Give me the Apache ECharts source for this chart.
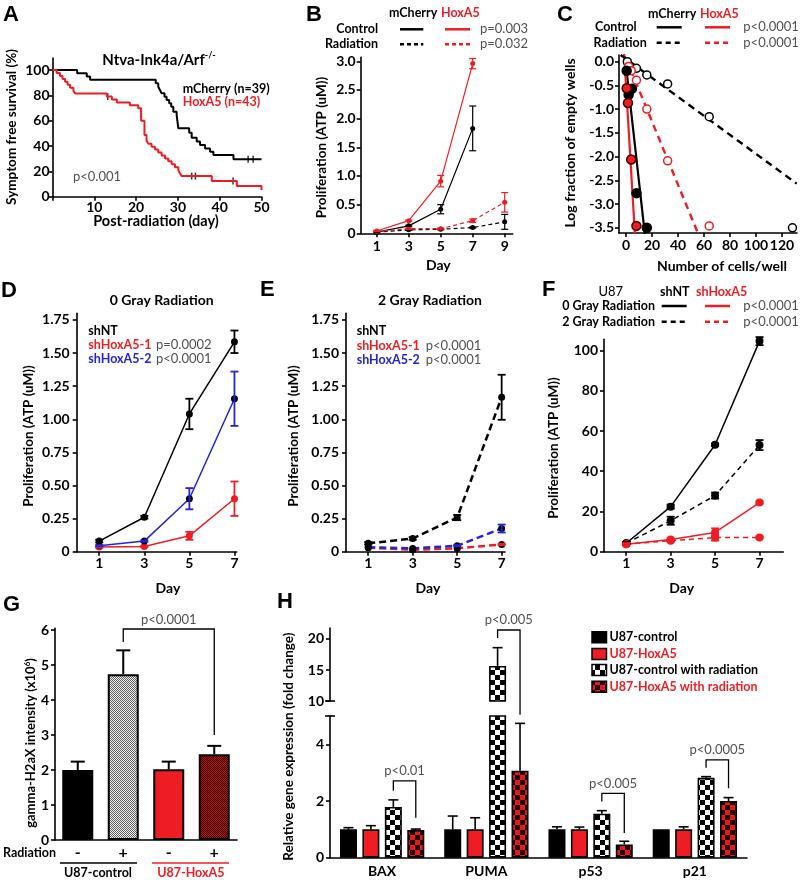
<!DOCTYPE html>
<html>
<head>
<meta charset="utf-8">
<title>HoxA5 figure</title>
<script src="https://cdn.jsdelivr.net/npm/echarts@6.0.0/dist/echarts.min.js"></script>
<style>
html,body{margin:0;padding:0;background:#fff;}
#chart{width:800px;height:880px;}
</style>
</head>
<body>
<div id="chart"></div>
<script>
// ================= DATA =================
// Panel A: Kaplan-Meier, [day, % symptom free]
const A_xTicks = [0, 10, 20, 30, 40, 50];
const A_xLabels = [10, 20, 30, 40, 50];
const A_yTicks = [0, 20, 40, 60, 80, 100];
const A_mCherry = [[0,100],[5.9,97.4],[8.2,94.9],[9.0,92.3],[24.7,89.5],[25.3,86.8],[25.7,84.2],[26.1,81.6],[26.8,79.0],[27.3,76.3],[27.9,73.7],[28.4,71.0],[28.9,67.0],[29.7,64.5],[30.1,54.0],[32.7,50.5],[33.3,46.5],[34.5,43.5],[35.3,40.8],[36.5,38.0],[37.7,35.5],[38.5,32.9],[43.3,29.5],[50,29.5]];
const A_mCherryCensor = [[46.8,29.5],[48.0,29.5]];
const A_HoxA5 = [[0,100],[1.0,97.7],[1.8,95.3],[2.4,93.0],[3.0,90.7],[3.6,88.4],[4.2,86.0],[5.0,83.7],[5.4,81.4],[13.0,79.1],[14.2,76.7],[15.4,74.4],[18.5,72.1],[20.5,69.8],[21.2,60.0],[22.0,48.8],[22.5,44.2],[22.9,41.9],[23.7,39.5],[24.5,37.2],[25.3,34.9],[26.1,32.6],[26.9,30.2],[27.7,27.9],[28.5,25.6],[29.3,23.3],[30.1,20.9],[30.5,18.6],[30.9,16.3],[38.1,12.4],[44.1,8.4],[50,5.3]];
const A_HoxA5Censor = [[13.2,79.1],[33.3,16.3],[34.2,16.3],[43.2,12.4]];

// Panel B: proliferation (ATP uM)
const B_days = [1, 3, 5, 7, 9];
const B_ctrlDays = [1, 3, 5, 7];
const B_yTicks = [0, 0.5, 1.0, 1.5, 2.0, 2.5, 3.0];
const B_mChCtrl = [0.02, 0.13, 0.42, 1.83];
const B_mChCtrlErr = [0.01, 0.01, 0.08, 0.39];
const B_hoxCtrl = [0.04, 0.22, 0.91, 2.96];
const B_hoxCtrlErr = [0.01, 0.01, 0.10, 0.09];
const B_mChRad = [0.02, 0.06, 0.07, 0.10, 0.20];
const B_mChRadErr = [0, 0.01, 0.01, 0.01, 0.13];
const B_hoxRad = [0.03, 0.08, 0.08, 0.22, 0.54];
const B_hoxRadErr = [0, 0.01, 0.01, 0.03, 0.17];

// Panel C: limiting dilution, [cells/well, log fraction empty wells]
const C_xTicks = [0, 20, 40, 60, 80, 100, 120];
const C_yTicks = [0, -0.5, -1.0, -1.5, -2.0, -2.5, -3.0, -3.5];
const C_mChCtrl = [[0.5,-0.19],[1,-0.57],[2,-0.7],[4.5,-0.57],[8,-2.77],[16,-3.5]];
const C_hoxCtrl = [[0.5,-0.56],[1.5,-0.87],[4,-2.06],[8,-3.46]];
const C_mChRad = [[1,0.0],[8,-0.14],[16,-0.28],[32,-0.47],[64,-1.16],[128,-3.5]];
const C_hoxRad = [[2,-0.1],[4,-0.19],[8,-0.39],[16,-1.0],[32,-2.09],[64,-3.46]];
const C_fitMChCtrl = [[-0.8,0.11],[14.6,-3.66]];
const C_fitHoxCtrl = [[-1.5,0.18],[6.9,-3.66]];
const C_fitMChRad = [[-4.1,0.14],[131.3,-2.57]];
const C_fitHoxRad = [[0,0.07],[56,-3.66]];

// Panel D / E: 0 Gy and 2 Gy
const D_days = [1, 3, 5, 7];
const D_yTicks = [0, 0.25, 0.5, 0.75, 1.0, 1.25, 1.5, 1.75];
const D_shNT = [0.08, 0.26, 1.04, 1.585];
const D_shNTErr = [0.01, 0.01, 0.115, 0.085];
const D_sh1 = [0.035, 0.04, 0.12, 0.40];
const D_sh1Err = [0.005, 0.005, 0.03, 0.13];
const D_sh2 = [0.045, 0.08, 0.40, 1.155];
const D_sh2Err = [0.005, 0.005, 0.08, 0.205];
const E_shNT = [0.063, 0.10, 0.258, 1.166];
const E_shNTErr = [0.01, 0.01, 0.02, 0.17];
const E_sh1 = [0.03, 0.015, 0.025, 0.055];
const E_sh1Err = [0, 0, 0, 0.005];
const E_sh2 = [0.033, 0.025, 0.045, 0.175];
const E_sh2Err = [0, 0, 0.005, 0.03];

// Panel F: U87
const F_days = [1, 3, 5, 7];
const F_yTicks = [0, 20, 40, 60, 80, 100];
const F_shNT0 = [4.2, 22.4, 53.2, 104.7];
const F_shNT0Err = [0.5, 1.0, 0.6, 2.0];
const F_shNT2 = [4.2, 15.4, 27.9, 53.0];
const F_shNT2Err = [0.5, 2.0, 1.5, 2.5];
const F_sh0 = [3.7, 6.1, 9.6, 24.4];
const F_sh0Err = [0.5, 0.5, 2.0, 0.6];
const F_sh2 = [3.7, 5.5, 7.0, 7.1];
const F_sh2Err = [0.5, 0.5, 1.5, 0.5];

// Panel G: gamma-H2aX
const G_groups = ['-', '+', '-', '+'];
const G_yTicks = [0, 1, 2, 3, 4, 5, 6];
const G_values = [2.0, 4.74, 2.02, 2.45];
const G_err = [0.24, 0.68, 0.22, 0.24];

// Panel H: relative gene expression
const H_genes = ['BAX', 'PUMA', 'p53', 'p21'];
const H_upTicks = [10, 15, 20];
const H_loTicks = [0, 2, 4];
const H_ctrl = [1.0, 1.0, 1.0, 1.0];
const H_ctrlErr = [0.06, 0.47, 0.09, 0];
const H_hox = [1.0, 1.0, 1.0, 1.0];
const H_hoxErr = [0.13, 0.41, 0.08, 0.09];
const H_ctrlRad = [1.79, 15.65, 1.55, 2.82];
const H_ctrlRadErr = [0.25, 2.95, 0.11, 0.04];
const H_hoxRad = [0.98, 3.07, 0.47, 2.0];
const H_hoxRadErr = [0.03, 1.67, 0.11, 0.12];
const H_names = ['U87-control', 'U87-HoxA5', 'U87-control with radiation', 'U87-HoxA5 with radiation'];

// ================= STYLE =================
const FONT = 'Lato, "Open Sans", "DejaVu Sans", sans-serif';
const LETTER = 'bold 22px "Liberation Sans", Arial, sans-serif';
const RED = '#ee1d23', BLUE = '#2323dd', GRAY = '#505050';
const LEG = 12.5;

function checker(c1, c2, s) {
  const cv = document.createElement('canvas');
  cv.width = cv.height = 2 * s;
  const ctx = cv.getContext('2d');
  ctx.fillStyle = c1; ctx.fillRect(0, 0, 2 * s, 2 * s);
  ctx.fillStyle = c2; ctx.fillRect(0, 0, s, s); ctx.fillRect(s, s, s, s);
  return {image: cv, repeat: 'repeat'};
}
const PAT_G_GRAY = checker('#f0f0f0', '#606060', 1);
const PAT_G_DRED = checker('#b31212', '#3a0000', 1);
const PAT_H_BW = checker('#ffffff', '#000000', 5);
const PAT_H_DRED = checker('#e81818', '#1a0000', 5);
const G_fills = ['#000', PAT_G_GRAY, RED, PAT_G_DRED];
const H_fills = ['#000', RED, PAT_H_BW, PAT_H_DRED];

const grids = [
  {left: 52.5, top: 58, width: 209, height: 138.7},    // A
  {left: 360.7, top: 57.3, width: 152, height: 176},   // B
  {left: 619, top: 55, width: 178, height: 178},       // C
  {left: 76.7, top: 313.3, width: 160, height: 238.4}, // D
  {left: 346, top: 313.3, width: 159, height: 238.4},  // E
  {left: 604, top: 339.3, width: 179.3, height: 212.4},// F
  {left: 55, top: 628.3, width: 182, height: 211.7},   // G
  {left: 330, top: 628, width: 417, height: 73},       // H upper
  {left: 330, top: 716, width: 417, height: 141.7}     // H lower
];

function valAxis(grid, min, max, ticks, labels, fmt, margin, extra) {
  const ax = {
    type: 'value', gridIndex: grid, min: min, max: max,
    axisLine: {show: true, onZero: false, lineStyle: {color: '#000', width: 1.6}},
    axisTick: {show: true, length: 4, customValues: ticks, lineStyle: {color: '#000', width: 1.6}},
    axisLabel: {show: true, customValues: labels, formatter: fmt, margin: margin, color: '#000',
      fontFamily: FONT, fontWeight: 'bold', fontSize: 14},
    splitLine: {show: false}
  };
  return Object.assign(ax, extra || {});
}
function catAxis(grid, cats, show, fontSize, margin) {
  return {
    type: 'category', gridIndex: grid, data: cats, boundaryGap: true,
    axisLine: {show: show, onZero: false, lineStyle: {color: '#000', width: 1.6}},
    axisTick: {show: false},
    axisLabel: {show: show, margin: margin, color: '#000', fontFamily: FONT, fontWeight: 'bold', fontSize: fontSize},
    splitLine: {show: false}
  };
}
const str = v => String(v);
const fmt1 = v => v === 0 ? '0' : v.toFixed(1);
const fmt2 = v => v === 0 ? '0' : v.toFixed(2);

function ln(grid, xs, ys, color, dash, width, symSize, symColor) {
  return {
    type: 'line', xAxisIndex: grid, yAxisIndex: grid, silent: true, z: 3,
    data: xs.map((x, i) => [x, ys[i]]),
    symbol: symSize ? 'circle' : 'none', symbolSize: symSize || 0, showSymbol: !!symSize,
    itemStyle: {color: symColor || color, borderWidth: 0},
    lineStyle: {color: color, width: width, type: dash || 'solid'}
  };
}
function pairLine(grid, pts, color, dash, width) {
  return {
    type: 'line', xAxisIndex: grid, yAxisIndex: grid, silent: true, z: 2, clip: true,
    data: pts, symbol: 'none', lineStyle: {color: color, width: width, type: dash || 'solid'}
  };
}
function pts(grid, data, fill, stroke, size) {
  return {
    type: 'scatter', xAxisIndex: grid, yAxisIndex: grid, silent: true, z: 4, data: data,
    symbol: 'circle', symbolSize: size, itemStyle: {color: fill, borderColor: stroke, borderWidth: 1.5, opacity: 1}
  };
}
function errBars(grid, xs, ys, es, color, cap, lw) {
  const data = [];
  xs.forEach((x, i) => { if (ys[i] != null && es[i] > 0) data.push([x, ys[i] - es[i], ys[i] + es[i]]); });
  return {
    type: 'custom', xAxisIndex: grid, yAxisIndex: grid, data: data, silent: true, z: 5,
    renderItem: function (p, api) {
      const x = api.value(0);
      const lo = api.coord([x, api.value(1)]), hi = api.coord([x, api.value(2)]);
      const st = {stroke: color, lineWidth: lw};
      return {type: 'group', children: [
        {type: 'line', shape: {x1: lo[0], y1: lo[1], x2: hi[0], y2: hi[1]}, style: st},
        {type: 'line', shape: {x1: lo[0] - cap, y1: lo[1], x2: lo[0] + cap, y2: lo[1]}, style: st},
        {type: 'line', shape: {x1: hi[0] - cap, y1: hi[1], x2: hi[0] + cap, y2: hi[1]}, style: st}
      ]};
    }
  };
}
// bar error bars (upper half only)
function barErr(grid, vals, errs, barIdx, offsets, keep, cap, lw) {
  const data = [];
  vals.forEach((v, i) => { if (errs[i] > 0 && keep(v)) data.push([i, v, v + errs[i], barIdx]); });
  return {
    type: 'custom', xAxisIndex: grid, yAxisIndex: grid, data: data, silent: true, z: 5,
    renderItem: function (p, api) {
      const c = api.value(0);
      const lo = api.coord([c, api.value(1)]), hi = api.coord([c, api.value(2)]);
      const x = lo[0] + offsets[api.value(3)];
      const st = {stroke: '#000', lineWidth: lw};
      return {type: 'group', children: [
        {type: 'line', shape: {x1: x, y1: lo[1], x2: x, y2: hi[1]}, style: st},
        {type: 'line', shape: {x1: x - cap, y1: hi[1], x2: x + cap, y2: hi[1]}, style: st}
      ]};
    }
  };
}

const H_BW = 17, H_GAP = 0.32;
const H_OFF = [-1.5, -0.5, 0.5, 1.5].map(k => k * H_BW * (1 + H_GAP));
const H_series = [H_ctrl, H_hox, H_ctrlRad, H_hoxRad];
const H_errs = [H_ctrlErr, H_hoxErr, H_ctrlRadErr, H_hoxRadErr];
const H_UP_MIN = 10, H_UP_MAX = 21.77, H_LO_MAX = 5;

const series = [];
// A
series.push({type: 'line', xAxisIndex: 0, yAxisIndex: 0, step: 'end', data: A_mCherry, symbol: 'none', silent: true,
  lineStyle: {color: '#000', width: 2}});
series.push({type: 'line', xAxisIndex: 0, yAxisIndex: 0, step: 'end', data: A_HoxA5, symbol: 'none', silent: true,
  lineStyle: {color: RED, width: 2}});
series.push({type: 'scatter', xAxisIndex: 0, yAxisIndex: 0, data: A_mCherryCensor, symbol: 'rect', symbolSize: [1.5, 7], silent: true, itemStyle: {color: '#000'}});
series.push({type: 'scatter', xAxisIndex: 0, yAxisIndex: 0, data: A_HoxA5Censor, symbol: 'rect', symbolSize: [1.5, 7], silent: true, itemStyle: {color: '#000'}});
// B
series.push(ln(1, B_ctrlDays, B_mChCtrl, '#000', 'solid', 1.2, 5));
series.push(ln(1, B_ctrlDays, B_hoxCtrl, RED, 'solid', 1.2, 5));
series.push(ln(1, B_days, B_mChRad, '#000', [4, 3], 1.2, 5));
series.push(ln(1, B_days, B_hoxRad, RED, [4, 3], 1.2, 5));
series.push(errBars(1, B_ctrlDays, B_mChCtrl, B_mChCtrlErr, '#000', 3.5, 1.2));
series.push(errBars(1, B_ctrlDays, B_hoxCtrl, B_hoxCtrlErr, RED, 3.5, 1.2));
series.push(errBars(1, B_days, B_mChRad, B_mChRadErr, '#000', 3.5, 1.2));
series.push(errBars(1, B_days, B_hoxRad, B_hoxRadErr, RED, 3.5, 1.2));
// C
series.push(pairLine(2, C_fitMChCtrl, '#000', 'solid', 2.2));
series.push(pairLine(2, C_fitHoxCtrl, RED, 'solid', 2.2));
series.push(pairLine(2, C_fitMChRad, '#000', [7, 5], 2.4));
series.push(pairLine(2, C_fitHoxRad, RED, [7, 5], 2.4));
series.push(pts(2, C_mChRad, '#fff', '#000', 8));
series.push(pts(2, C_hoxRad, '#fff', RED, 8));
series.push(pts(2, C_mChCtrl, '#000', '#000', 9));
series.push(pts(2, C_hoxCtrl, RED, '#400', 9));
// D
series.push(ln(3, D_days, D_shNT, '#000', 'solid', 1.5, 7));
series.push(ln(3, D_days, D_sh1, RED, 'solid', 1.5, 7));
series.push(ln(3, D_days, D_sh2, BLUE, 'solid', 1.5, 7, '#000'));
series.push(errBars(3, D_days, D_shNT, D_shNTErr, '#000', 4, 1.8));
series.push(errBars(3, D_days, D_sh1, D_sh1Err, RED, 4, 1.8));
series.push(errBars(3, D_days, D_sh2, D_sh2Err, BLUE, 4, 1.8));
// E
series.push(ln(4, D_days, E_shNT, '#000', [7, 4], 2.5, 7));
series.push(ln(4, D_days, E_sh1, RED, [7, 4], 2.5, 7, '#000'));
series.push(ln(4, D_days, E_sh2, BLUE, [7, 4], 2.5, 7, '#000'));
series.push(errBars(4, D_days, E_shNT, E_shNTErr, '#000', 4, 1.8));
series.push(errBars(4, D_days, E_sh1, E_sh1Err, RED, 4, 1.8));
series.push(errBars(4, D_days, E_sh2, E_sh2Err, BLUE, 4, 1.8));
// F
series.push(ln(5, F_days, F_shNT0, '#000', 'solid', 1.5, 8));
series.push(ln(5, F_days, F_shNT2, '#000', [5, 4], 1.5, 8));
series.push(ln(5, F_days, F_sh0, RED, 'solid', 1.5, 8));
series.push(ln(5, F_days, F_sh2, RED, [5, 4], 1.5, 8));
series.push(errBars(5, F_days, F_shNT0, F_shNT0Err, '#000', 4, 1.8));
series.push(errBars(5, F_days, F_shNT2, F_shNT2Err, '#000', 4, 1.8));
series.push(errBars(5, F_days, F_sh0, F_sh0Err, RED, 4, 1.8));
series.push(errBars(5, F_days, F_sh2, F_sh2Err, RED, 4, 1.8));
// G
series.push({type: 'bar', xAxisIndex: 6, yAxisIndex: 6, barWidth: 31, silent: true, z: 2,
  data: G_values.map((v, i) => ({value: v, itemStyle: {color: G_fills[i], borderColor: '#000', borderWidth: 2}}))});
series.push(barErr(6, G_values, G_err, 0, [0], () => true, 7, 2));
// H (upper and lower segments of broken axis)
H_series.forEach((vals, k) => {
  series.push({type: 'bar', xAxisIndex: 7, yAxisIndex: 7, barWidth: H_BW, barGap: (H_GAP * 100) + '%', silent: true, z: 2, clip: true,
    data: vals.map(v => v > H_UP_MIN ? v : '-'),
    itemStyle: {color: H_fills[k], borderColor: '#000', borderWidth: 1.6}});
});
H_series.forEach((vals, k) => {
  series.push({type: 'bar', xAxisIndex: 8, yAxisIndex: 8, barWidth: H_BW, barGap: (H_GAP * 100) + '%', silent: true, z: 2, clip: true,
    data: vals.slice(),
    itemStyle: {color: H_fills[k], borderColor: '#000', borderWidth: 1.6}});
});
H_series.forEach((vals, k) => {
  series.push(barErr(7, vals, H_errs[k], k, H_OFF, v => v > H_UP_MIN, 5, 1.6));
  series.push(barErr(8, vals, H_errs[k], k, H_OFF, v => v <= H_LO_MAX, 5, 1.6));
});

const option = {
  animation: false,
  backgroundColor: '#fff',
  textStyle: {fontFamily: FONT},
  grid: grids,
  xAxis: [
    valAxis(0, 0, 50, A_xTicks, A_xLabels, str, 4),
    valAxis(1, 0, 9.5, B_days, B_days, str, 6),
    valAxis(2, -5.4, 131.5, C_xTicks, C_xTicks, str, 5),
    valAxis(3, 0, 7.1, D_days, D_days, str, 5),
    valAxis(4, 0, 7.15, D_days, D_days, str, 5),
    valAxis(5, 0, 8.07, F_days, F_days, str, 5),
    catAxis(6, G_groups, true, 16, 5),
    catAxis(7, H_genes, false, 14, 8),
    catAxis(8, H_genes, true, 14, 7)
  ],
  yAxis: [
    valAxis(0, 0, 109.5, A_yTicks, A_yTicks, str, 3),
    valAxis(1, 0, 3.07, B_yTicks, B_yTicks, fmt1, 5),
    valAxis(2, -3.61, 0.14, C_yTicks, C_yTicks, v => v.toFixed(1), 5),
    valAxis(3, 0, 1.8, D_yTicks, D_yTicks, fmt2, 7),
    valAxis(4, 0, 1.8, D_yTicks, D_yTicks, fmt2, 7),
    valAxis(5, 0, 105.6, F_yTicks, F_yTicks, str, 6),
    valAxis(6, 0, 6.05, G_yTicks, G_yTicks, str, 6),
    valAxis(7, H_UP_MIN, H_UP_MAX, H_upTicks, H_upTicks, str, 6),
    valAxis(8, 0, H_LO_MAX, H_loTicks, H_loTicks, str, 6)
  ],
  series: series
};

const chart = echarts.init(document.getElementById('chart'), null, {renderer: 'canvas'});
chart.setOption(option);

// ================= ANNOTATIONS =================
const els = [];
function txt(text, x, y, o) {
  o = o || {};
  const align = o.align || (o.rot ? 'center' : 'left');
  const font = o.font || ((o.weight || 'bold') + ' ' + (o.size || LEG) + 'px ' + FONT);
  const st = {text: text, fill: o.color || '#000', font: font,
    textAlign: align, align: align, textVerticalAlign: 'middle', verticalAlign: 'middle'};
  if (o.rich) st.rich = o.rich;
  els.push({type: 'text', x: x, y: y, rotation: o.rot ? Math.PI / 2 : 0, z: 100, silent: true, style: st});
}
function seg(x1, y1, x2, y2, color, w, dash) {
  els.push({type: 'line', z: 100, silent: true, shape: {x1: x1, y1: y1, x2: x2, y2: y2},
    style: {stroke: color, lineWidth: w, lineDash: dash || null}});
}
function poly(points, color, w) {
  els.push({type: 'polyline', z: 100, silent: true, shape: {points: points}, style: {stroke: color, lineWidth: w, fill: null}});
}
const px = (g, x, y) => chart.convertToPixel({xAxisIndex: g, yAxisIndex: g}, [x, y]);
const AX = 13.5; // axis title size

// A
txt('A', 3, 15, {font: LETTER});
txt('{a|Ntva-Ink4a/Arf}{s|-/-}', 159, 60, {align: 'center', rich: {
  a: {fontFamily: FONT, fontWeight: 'bold', fontSize: 15, fill: '#000', lineHeight: 18},
  s: {fontFamily: FONT, fontWeight: 'bold', fontSize: 9, fill: '#000', verticalAlign: 'top'}}});
txt('mCherry (n=39)', 182.7, 89.3);
txt('HoxA5 (n=43)', 182.7, 101.7, {color: RED});
txt('p<0.001', 73, 176.7, {weight: 'normal', color: GRAY, size: 13});
txt('Symptom free survival (%)', 12, 127, {rot: true, size: AX});
txt('Post-radiation (day)', 156, 221, {align: 'center', size: 14.5});
// B
txt('B', 306, 15, {font: LETTER});
txt('mCherry', 389, 13.3);
txt('HoxA5', 441, 13.3, {color: RED});
txt('Control', 378, 29.3, {align: 'right'});
txt('Radiation', 378, 44.3, {align: 'right'});
seg(400, 29.3, 423.3, 29.3, '#000', 2.5);
seg(445, 29.3, 470, 29.3, RED, 2.5);
seg(400, 44.3, 423.3, 44.3, '#000', 2.5, [4, 3]);
seg(445, 44.3, 470, 44.3, RED, 2.5, [4, 3]);
txt('p=0.003', 480, 29.3, {weight: 'normal', color: GRAY, size: 13});
txt('p=0.032', 480, 44.3, {weight: 'normal', color: GRAY, size: 13});
txt('Proliferation (ATP (uM))', 321.7, 147.5, {rot: true, size: AX});
txt('Day', 438.3, 265, {align: 'center', size: 14});
// C
txt('C', 557, 15, {font: LETTER});
txt('mCherry', 648, 14);
txt('HoxA5', 700, 14, {color: RED});
txt('Control', 636.7, 27.3, {align: 'right'});
txt('Radiation', 646.7, 42.7, {align: 'right'});
seg(656.7, 27.3, 681.7, 27.3, '#000', 2.5);
seg(705, 27.3, 730, 27.3, RED, 2.5);
seg(656.7, 42.7, 681.7, 42.7, '#000', 2.5, [5, 4]);
seg(705, 42.7, 730, 42.7, RED, 2.5, [5, 4]);
txt('p<0.0001', 743.3, 27.3, {weight: 'normal', color: GRAY, size: 13});
txt('p<0.0001', 743.3, 42.7, {weight: 'normal', color: GRAY, size: 13});
txt('Log fraction of empty wells', 570, 143, {rot: true, size: 14});
txt('Number of cells/well', 722, 266.7, {align: 'center', size: 14});
// D
txt('D', 1, 291, {font: LETTER});
txt('0 Gray Radiation', 161.7, 300, {align: 'center', size: 14});
txt('shNT', 88.3, 331);
txt('shHoxA5-1', 88.3, 344.5, {color: RED});
txt('shHoxA5-2', 88.3, 359, {color: BLUE});
txt('p=0.0002', 156, 344.5, {weight: 'normal', color: GRAY, size: 13});
txt('p<0.0001', 156, 359, {weight: 'normal', color: GRAY, size: 13});
txt('Proliferation (ATP (uM))', 28.3, 436, {rot: true, size: AX});
txt('Day', 168, 588, {align: 'center', size: 14});
// E
txt('E', 260, 290, {font: LETTER});
txt('2 Gray Radiation', 430, 300.7, {align: 'center', size: 14});
txt('shNT', 356.7, 331);
txt('shHoxA5-1', 356.7, 346, {color: RED});
txt('shHoxA5-2', 356.7, 360, {color: BLUE});
txt('p<0.0001', 425.7, 346, {weight: 'normal', color: GRAY, size: 13});
txt('p<0.0001', 425.7, 360, {weight: 'normal', color: GRAY, size: 13});
txt('Proliferation (ATP (uM))', 293.3, 436, {rot: true, size: AX});
txt('Day', 428, 588, {align: 'center', size: 14});
// F
txt('F', 542, 290, {font: LETTER});
txt('U87', 610.8, 291.7, {align: 'center', weight: 'normal', size: 13});
txt('shNT', 660, 291.7);
txt('shHoxA5', 696, 291.7, {color: RED});
txt('0 Gray Radiation', 655, 306, {align: 'right'});
txt('2 Gray Radiation', 655, 321.7, {align: 'right'});
seg(661.7, 306, 686.7, 306, '#000', 2.5);
seg(705, 306, 730, 306, RED, 2.5);
seg(661.7, 321.7, 686.7, 321.7, '#000', 2.5, [5, 4]);
seg(705, 321.7, 730, 321.7, RED, 2.5, [5, 4]);
txt('p<0.0001', 743.3, 306, {weight: 'normal', color: GRAY, size: 13});
txt('p<0.0001', 743.3, 321.7, {weight: 'normal', color: GRAY, size: 13});
txt('Proliferation (ATP (uM))', 554, 448, {rot: true, size: AX});
txt('Day', 681.7, 588, {align: 'center', size: 14});
// G
txt('G', 3, 605, {font: LETTER});
txt('{a|gamma-H2aX intensity (x10}{s|6}{a|)}', 31, 743, {rot: true, rich: {
  a: {fontFamily: FONT, fontWeight: 'bold', fontSize: 13, fill: '#000', lineHeight: 16},
  s: {fontFamily: FONT, fontWeight: 'bold', fontSize: 8, fill: '#000', verticalAlign: 'top'}}});
txt('Radiation', 3, 853);
seg(60, 863, 137, 863, '#000', 1.5);
seg(152, 863, 229, 863, RED, 1.5);
txt('U87-control', 98, 873.3, {align: 'center'});
txt('U87-HoxA5', 190.8, 873.3, {align: 'center', color: RED});
(function () {
  const b = {a: 1, b: 3, top: 6.03, aBottom: 5.66, bBottom: 3.0};
  const p1 = px(6, b.a, b.aBottom), p2 = px(6, b.a, b.top), p3 = px(6, b.b, b.top), p4 = px(6, b.b, b.bBottom);
  poly([p1, p2, p3, p4], '#000', 1.3);
  txt('p<0.0001', (p2[0] + p3[0]) / 2, p2[1] - 9, {align: 'center', weight: 'normal', color: GRAY, size: 13});
})();
// H
txt('H', 277, 602, {font: LETTER});
txt('Relative gene expression (fold change)', 289, 746.7, {rot: true, size: AX});
const H_legY = [637.3, 654, 670, 686.7];
H_names.forEach((n, k) => {
  els.push({type: 'rect', z: 100, silent: true, shape: {x: 592, y: H_legY[k] - 5.5, width: 14.5, height: 11},
    style: {fill: H_fills[k], stroke: '#000', lineWidth: 1.5}});
  txt(n, 609.5, H_legY[k], {color: (k % 2) ? RED : '#000'});
});
// axis break marks
const hAxisX = grids[8].left;
const yUpBottom = px(7, 0, H_UP_MIN)[1], yLoTop = px(8, 0, H_LO_MAX)[1];
seg(hAxisX - 5, yUpBottom, hAxisX + 5, yUpBottom, '#000', 1.6);
seg(hAxisX - 5, yLoTop, hAxisX + 5, yLoTop, '#000', 1.6);
const H_brackets = [
  {cat: 0, top: 2.71, aBottom: 2.36, bBottom: 1.41, tg: 8, ag: 8, bg: 8, label: 'p<0.01'},
  {cat: 1, top: 21.45, aBottom: 20.16, bBottom: 5.04, tg: 7, ag: 7, bg: 8, label: 'p<0.005'},
  {cat: 2, top: 2.27, aBottom: 1.98, bBottom: 0.87, tg: 8, ag: 8, bg: 8, label: 'p<0.005'},
  {cat: 3, top: 3.45, aBottom: 3.17, bBottom: 2.45, tg: 8, ag: 8, bg: 8, label: 'p<0.0005'}
];
H_brackets.forEach(b => {
  const xa = px(8, b.cat, 0)[0] + H_OFF[2], xb = px(8, b.cat, 0)[0] + H_OFF[3];
  const yt = px(b.tg, b.cat, b.top)[1], ya = px(b.ag, b.cat, b.aBottom)[1], yb = px(b.bg, b.cat, b.bBottom)[1];
  poly([[xa, ya], [xa, yt], [xb, yt], [xb, yb]], '#000', 1.3);
  txt(b.label, (xa + xb) / 2, yt - 10, {align: 'center', weight: 'normal', color: GRAY, size: 13});
});

chart.setOption({graphic: {elements: els}});
</script>
</body>
</html>
